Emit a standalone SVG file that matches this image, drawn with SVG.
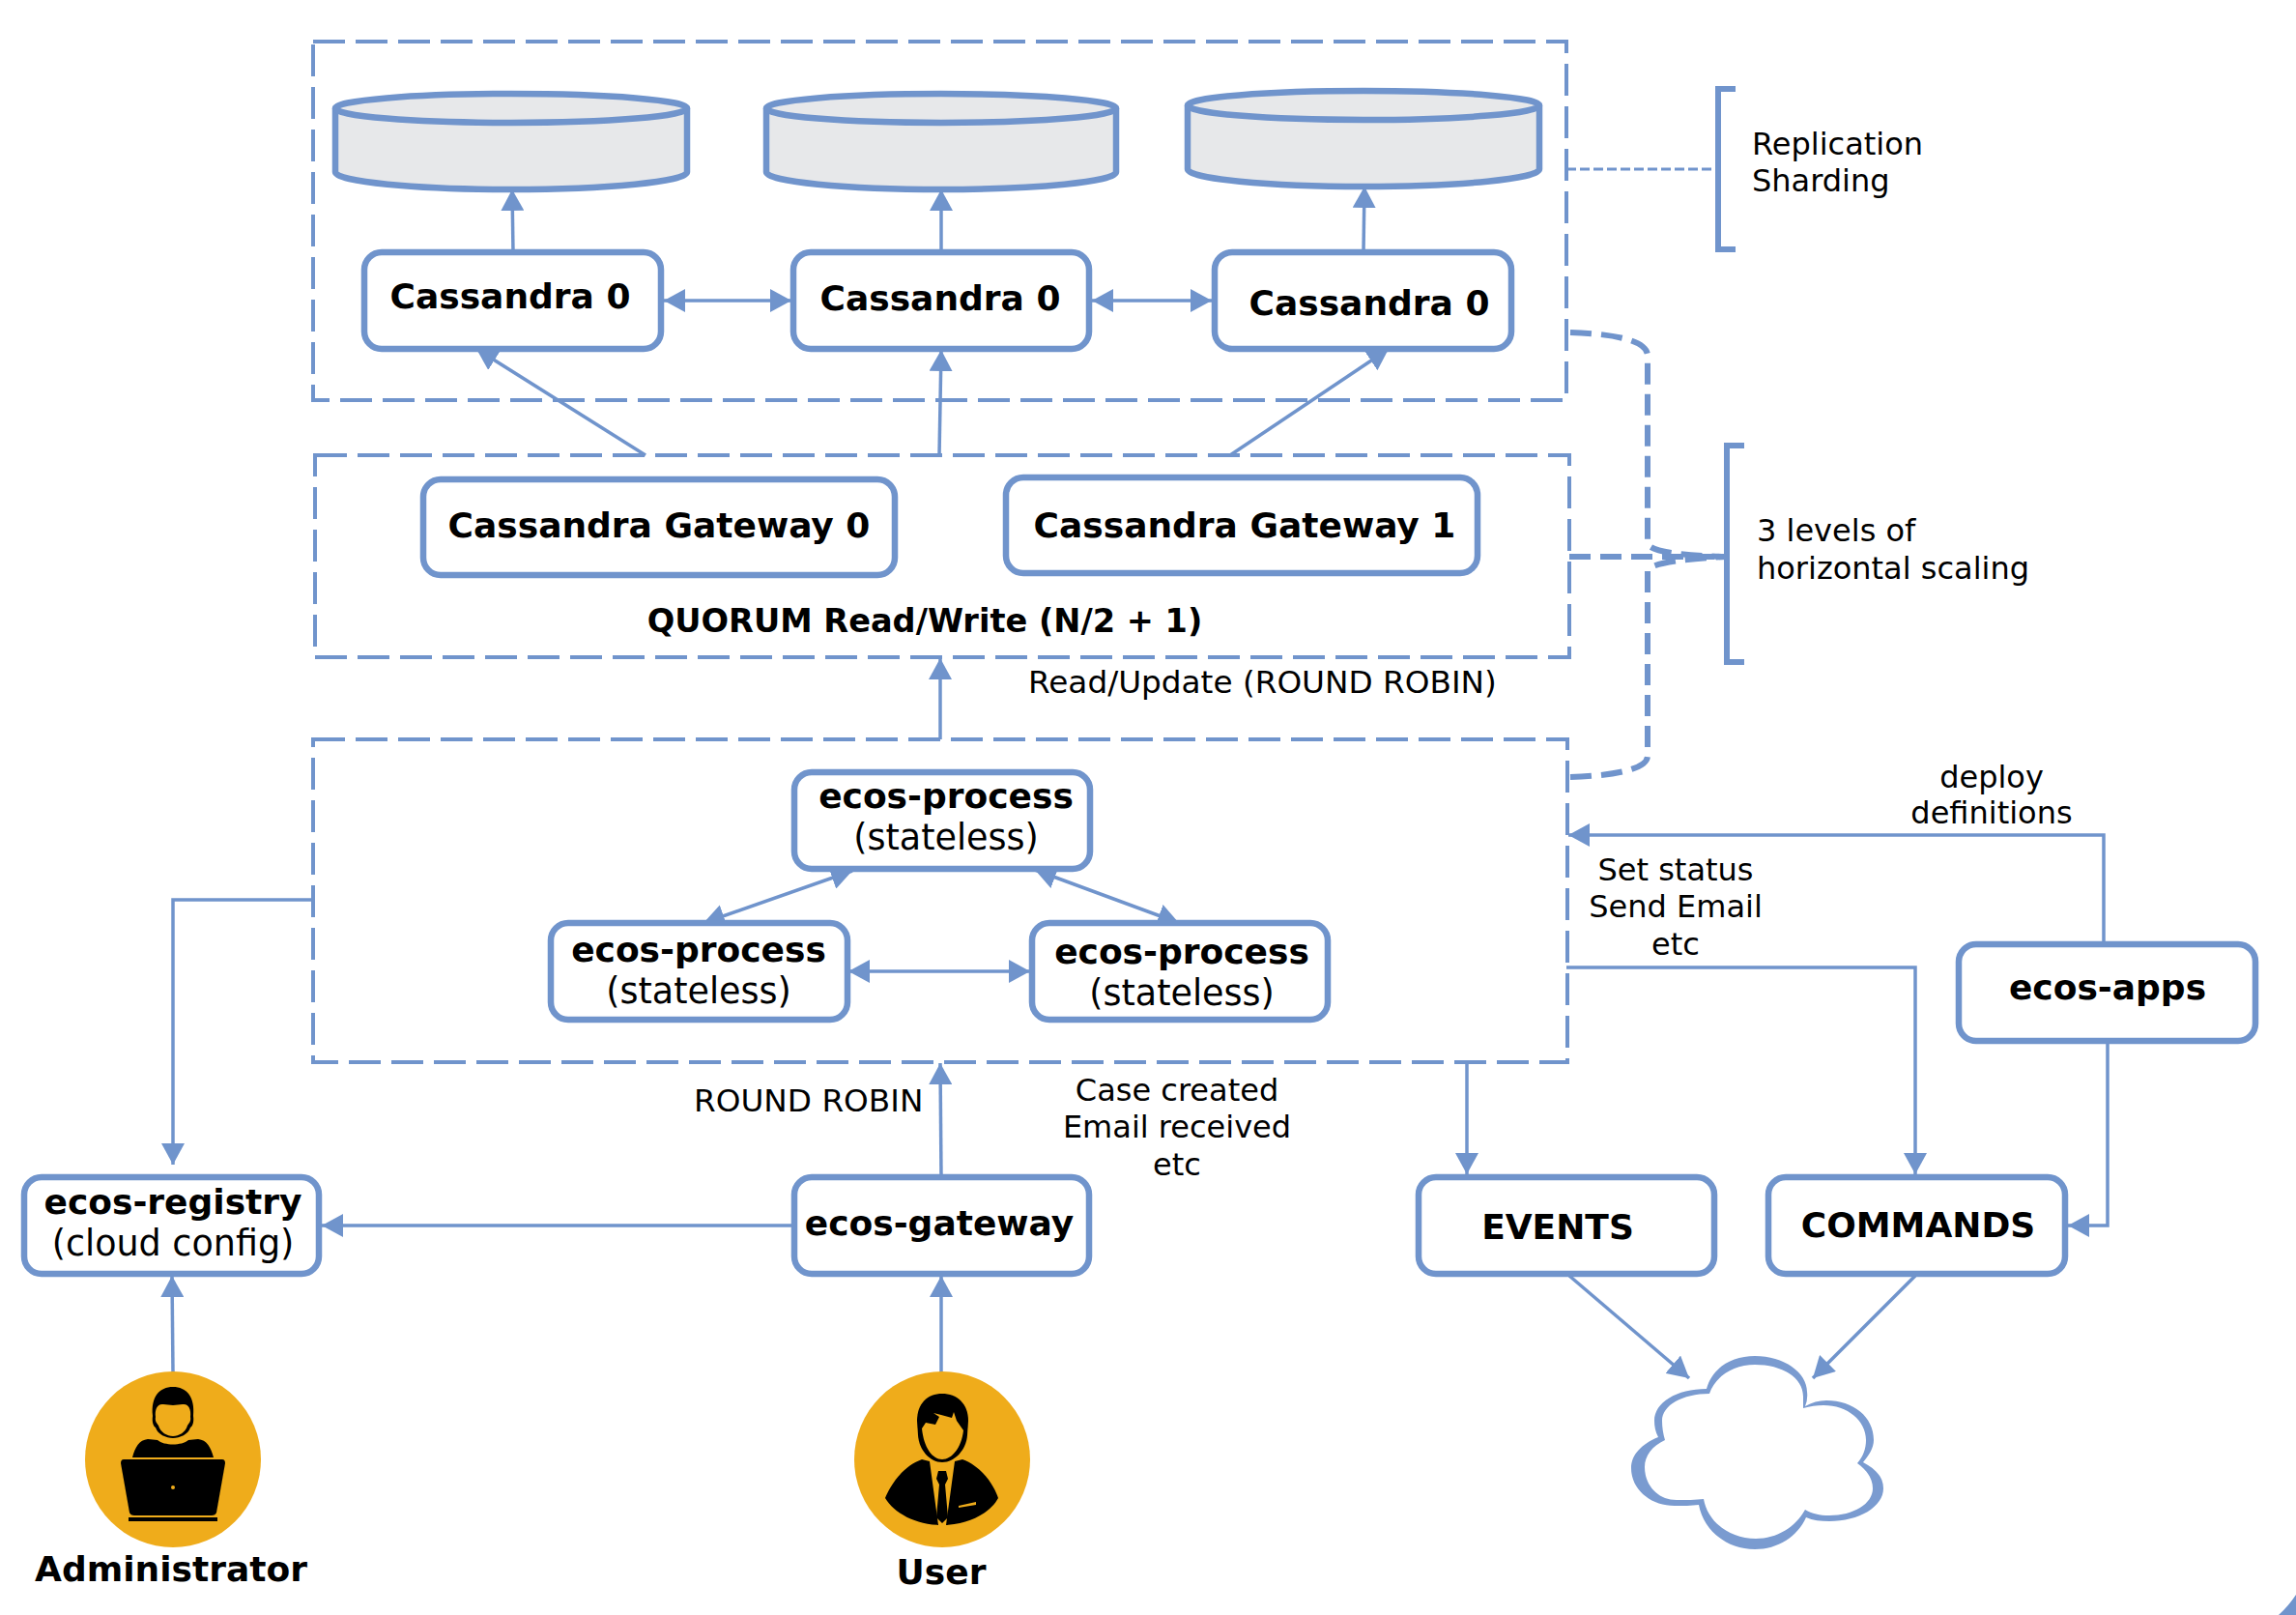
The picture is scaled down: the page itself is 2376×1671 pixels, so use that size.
<svg xmlns="http://www.w3.org/2000/svg" width="2376" height="1671" viewBox="0 0 2376 1671">
<style>
text{font-family:"DejaVu Sans",Verdana,sans-serif;fill:#000}
.b{font-weight:700;font-size:36px;text-anchor:middle}
.r{font-size:32px}
.w{font-size:32.7px}
.m{text-anchor:middle}
.k{font-size:36.5px;text-anchor:middle}
.n{fill:#fff;stroke:#7094cc;stroke-width:6.5}
.z{fill:none;stroke:#7094cc;stroke-width:4;stroke-dasharray:33 11}
.c{fill:none;stroke:#7094cc;stroke-width:3.5}
.t{fill:none;stroke:#7094cc;stroke-width:6;stroke-dasharray:22 10}
.d{fill:#e7e8ea;stroke:#7094cc;stroke-width:6.5}
.g{fill:#efac1b}
</style>
<defs>
<marker id="a" markerUnits="userSpaceOnUse" markerWidth="24" markerHeight="24" refX="22" refY="12" orient="auto"><path d="M0 0L22 12L0 24Z" fill="#7094cc"/></marker>
<marker id="s" markerUnits="userSpaceOnUse" markerWidth="24" markerHeight="24" refX="2" refY="12" orient="auto"><path d="M24 0L2 12L24 24Z" fill="#7094cc"/></marker>
</defs>
<rect width="2376" height="1671" fill="#fff"/>
<g id="boxes">
<rect class="z" x="324" y="43" width="1297" height="371"/>
<rect class="z" x="326" y="471" width="1298" height="209"/>
<rect class="z" x="324" y="765" width="1298" height="334"/>
</g>
<g id="connectors">
<path class="c" marker-end="url(#a)" d="M531 261L530 196"/>
<path class="c" marker-end="url(#a)" d="M974 261V196"/>
<path class="c" marker-end="url(#a)" d="M1411 261L1412 193"/>
<path class="c" marker-start="url(#s)" marker-end="url(#a)" d="M687 311H819"/>
<path class="c" marker-start="url(#s)" marker-end="url(#a)" d="M1130 311H1254"/>
<path class="c" marker-end="url(#a)" d="M668 471L493 361"/>
<path class="c" marker-end="url(#a)" d="M972 471L974 362"/>
<path class="c" marker-end="url(#a)" d="M1273 471L1437 361"/>
<path class="c" marker-end="url(#a)" d="M973 765V681"/>
<path class="c" marker-start="url(#s)" marker-end="url(#a)" d="M728 955L882 901"/>
<path class="c" marker-start="url(#s)" marker-end="url(#a)" d="M1071 900L1220 955"/>
<path class="c" marker-start="url(#s)" marker-end="url(#a)" d="M878 1005H1066"/>
<path class="c" marker-end="url(#a)" d="M323 931H179V1205"/>
<path class="c" marker-end="url(#a)" d="M974 1217L973 1100"/>
<path class="c" marker-end="url(#a)" d="M822 1268H333"/>
<path class="c" marker-end="url(#a)" d="M179 1420L178 1320"/>
<path class="c" marker-end="url(#a)" d="M974 1420V1320"/>
<path class="c" marker-end="url(#a)" d="M1518 1098V1215"/>
<path class="c" marker-end="url(#a)" d="M1621 1001H1982V1215"/>
<path class="c" marker-end="url(#a)" d="M2177 977V864H1623"/>
<path class="c" marker-end="url(#a)" d="M2181 1077V1268H2140"/>
<path class="c" marker-end="url(#a)" d="M1624 1320L1748 1426"/>
<path class="c" marker-end="url(#a)" d="M1982 1320L1876 1426"/>
<path d="M1621 175H1778" fill="none" stroke="#7094cc" stroke-width="3" stroke-dasharray="10 4"/>
<path class="t" d="M1625 344C1660 345 1705 350 1705 368V562Q1707 574 1786 576"/>
<path class="t" d="M1624 576H1786"/>
<path class="t" d="M1625 804C1660 803 1705 798 1705 782V591Q1707 580 1786 576"/>
<path d="M1796 92H1778V258H1796" fill="none" stroke="#7094cc" stroke-width="6"/>
<path d="M1805 461H1787V685H1805" fill="none" stroke="#7094cc" stroke-width="6"/>
</g>
<g id="db0"><path class="d" d="M347 112V178C347 188 430 196 529 196S711 188 711 178V112"/><ellipse class="d" cx="529" cy="112" rx="182" ry="15"/></g>
<g id="db1"><path class="d" d="M793 112V178C793 188 875 196 974 196S1155 188 1155 178V112"/><ellipse class="d" cx="974" cy="112" rx="181" ry="15"/></g>
<g id="db2"><path class="d" d="M1229 109V175C1229 185 1312 193 1411 193S1593 185 1593 175V109"/><ellipse class="d" cx="1411" cy="109" rx="182" ry="15"/></g>
<g id="cass0"><rect class="n" x="377" y="261" width="307" height="100" rx="18"/><text class="b" x="528" y="319">Cassandra 0</text></g>
<g id="cass1"><rect class="n" x="821" y="261" width="306" height="100" rx="18"/><text class="b" x="973" y="321">Cassandra 0</text></g>
<g id="cass2"><rect class="n" x="1257" y="261" width="307" height="100" rx="18"/><text class="b" x="1417" y="326">Cassandra 0</text></g>
<g id="gw0"><rect class="n" x="438" y="496" width="488" height="99" rx="18"/><text class="b" x="682" y="556">Cassandra Gateway 0</text></g>
<g id="gw1"><rect class="n" x="1041" y="494" width="488" height="99" rx="18"/><text class="b" x="1288" y="556">Cassandra Gateway 1</text></g>
<g id="quorum"><text class="b" x="957" y="654" style="font-size:33.6px">QUORUM Read/Write (N/2 + 1)</text></g>
<text class="w" x="1064" y="717">Read/Update (ROUND ROBIN)</text>
<g id="p0"><rect class="n" x="822" y="799" width="306" height="100" rx="18"/><text class="b" x="979" y="836">ecos-process</text><text class="k" x="979" y="879">(stateless)</text></g>
<g id="p1"><rect class="n" x="570" y="955" width="307" height="100" rx="18"/><text class="b" x="723" y="995">ecos-process</text><text class="k" x="723" y="1038">(stateless)</text></g>
<g id="p2"><rect class="n" x="1068" y="955" width="306" height="100" rx="18"/><text class="b" x="1223" y="997">ecos-process</text><text class="k" x="1223" y="1040">(stateless)</text></g>
<g id="apps"><rect class="n" x="2027" y="977" width="307" height="100" rx="18"/><text class="b" x="2181" y="1034">ecos-apps</text></g>
<g id="registry"><rect class="n" x="25" y="1218" width="305" height="100" rx="18"/><text class="b" x="179" y="1256">ecos-registry</text><text class="k" x="179" y="1299">(cloud config)</text></g>
<g id="gateway"><rect class="n" x="822" y="1218" width="305" height="100" rx="18"/><text class="b" x="972" y="1278">ecos-gateway</text></g>
<g id="events"><rect class="n" x="1468" y="1218" width="306" height="100" rx="18"/><text class="b" x="1612" y="1282">EVENTS</text></g>
<g id="commands"><rect class="n" x="1830" y="1218" width="307" height="100" rx="18"/><text class="b" x="1985" y="1280">COMMANDS</text></g>
<text class="r m" x="2061" y="815">deploy</text><text class="r m" x="2061" y="852">definitions</text>
<text class="r m" x="1734" y="911">Set status</text><text class="r m" x="1734" y="949">Send Email</text><text class="r m" x="1734" y="988">etc</text>
<text class="w" x="718" y="1150">ROUND ROBIN</text>
<text class="r m" x="1218" y="1139">Case created</text><text class="r m" x="1218" y="1177">Email received</text><text class="r m" x="1218" y="1216">etc</text>
<text class="r" x="1813" y="160">Replication</text><text class="r" x="1813" y="198">Sharding</text>
<text class="r" x="1818" y="560">3 levels of</text><text class="r" x="1818" y="599">horizontal scaling</text>
<g id="admin"><circle class="g" cx="179" cy="1510" r="91"/>
<path d="M158 1465C156 1445 165 1435 179 1435S202 1445 200 1465C201 1472 199 1476 197 1477C195 1484 186 1488 179 1488S163 1484 161 1477C159 1476 157 1472 158 1465Z"/>
<path class="g" d="M161 1466C160 1458 163 1452 169 1453L179 1454L189 1453C195 1452 198 1458 197 1466C198 1471 195 1473 194 1475C192 1482 185 1486 179 1486S166 1482 164 1475C163 1473 160 1471 161 1466Z"/>
<path d="M137 1508C140 1497 144 1490 153 1489L163 1490C170 1496 188 1496 195 1490L205 1489C214 1490 218 1497 221 1508Z"/>
<path d="M128 1510H230Q233 1510 233 1514L224 1565Q223 1568 219 1568H139Q135 1568 134 1565L125 1514Q125 1510 128 1510Z"/>
<rect x="133" y="1570" width="92" height="4"/><circle class="g" cx="179" cy="1539" r="2"/></g>
<text class="b" x="177" y="1636">Administrator</text>
<g id="user"><circle class="g" cx="975" cy="1510" r="91"/>
<path d="M949 1470C949 1452 960 1442 975 1442S1002 1452 1002 1470L1001 1485C1000 1500 988 1513 975 1513S951 1500 950 1485Z"/>
<path class="g" d="M954 1478L958 1472L968 1474L972 1466L966 1462L974 1464L985 1467L987 1461L990 1470L997 1480C995 1498 985 1510 975 1510S956 1498 954 1478Z"/>
<path d="M954 1510L962 1512L971 1578H975H979L988 1512L996 1510C1018 1518 1030 1540 1033 1550C1025 1565 1003 1578 975 1578S925 1565 916 1550C920 1540 932 1518 954 1510Z"/>
<path d="M971 1522H979L981 1530L978 1536L981 1570L975 1576L969 1570L972 1536L969 1530Z"/>
<path class="g" d="M992 1558L1010 1554V1557L992 1560Z"/></g>
<text class="b" x="974" y="1639">User</text>
<g id="cloud">
<path fill="#7a9bd0" d="M1766 1437C1772 1415 1792 1403 1816 1403C1846 1403 1870 1420 1870 1440Q1871 1448 1868 1455C1875 1451 1882 1449 1890 1449C1918 1449 1939 1466 1939 1490C1939 1498 1934 1506 1928 1513C1941 1520 1949 1528 1949 1540C1949 1559 1924 1574 1893 1574C1884 1574 1876 1573 1869 1570C1860 1590 1840 1603 1816 1603C1786 1603 1763 1583 1758 1557C1750 1558 1742 1558 1733 1558C1708 1558 1688 1541 1688 1519C1688 1505 1699 1494 1716 1487C1713 1481 1712 1476 1712 1470C1712 1451 1735 1437 1766 1437Z"/>
<path fill="#fff" d="M1769 1442C1775 1424 1794 1412 1816 1412C1844 1412 1866 1425 1866 1445Q1866 1451 1866 1457C1873 1455 1880 1454 1887 1454C1912 1454 1931 1470 1931 1490C1931 1499 1928 1507 1922 1514C1932 1521 1938 1530 1938 1540C1938 1556 1918 1568 1893 1568C1883 1568 1875 1566 1868 1562C1858 1580 1839 1592 1817 1592C1789 1592 1767 1574 1763 1551C1755 1552 1744 1552 1735 1552C1716 1552 1702 1537 1702 1518C1702 1506 1710 1496 1723 1490C1721 1483 1720 1477 1720 1470C1720 1454 1741 1442 1769 1442Z"/>
</g>
<path d="M2376 1650Q2368 1662 2358 1671H2376Z" fill="#7094cc"/>
</svg>
